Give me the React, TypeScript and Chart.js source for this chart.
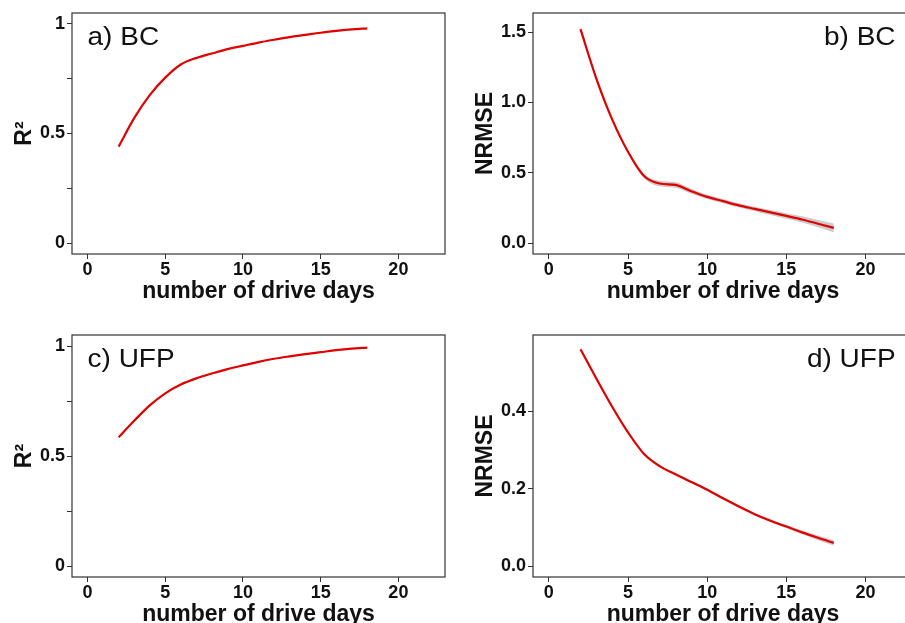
import React, { useEffect, useRef } from 'react';
import { Chart, registerables } from 'chart.js';
Chart.register(...registerables);

const days = [2, 3, 4, 5, 6, 7, 8, 9, 10, 11, 12, 13, 14, 15, 16, 17, 18];
const r2BC = [0.44, 0.57, 0.675, 0.755, 0.815, 0.845, 0.865, 0.885, 0.9, 0.915, 0.928, 0.94, 0.95, 0.96, 0.968, 0.975, 0.98];
const nrmseBC = [1.52, 1.17, 0.88, 0.65, 0.48, 0.425, 0.415, 0.37, 0.33, 0.3, 0.27, 0.245, 0.22, 0.195, 0.17, 0.14, 0.11];
const nrmseBCSpread = [0.02, 0.015, 0.012, 0.012, 0.015, 0.02, 0.02, 0.018, 0.015, 0.015, 0.015, 0.016, 0.018, 0.02, 0.022, 0.026, 0.032];
const r2UFP = [0.585, 0.66, 0.73, 0.785, 0.825, 0.853, 0.875, 0.895, 0.912, 0.928, 0.942, 0.953, 0.963, 0.972, 0.981, 0.988, 0.993];
const nrmseUFP = [0.559, 0.484, 0.411, 0.345, 0.29, 0.258, 0.237, 0.217, 0.197, 0.175, 0.154, 0.134, 0.117, 0.102, 0.087, 0.073, 0.06];
const nrmseUFPSpread = [0.004, 0.003, 0.003, 0.003, 0.003, 0.003, 0.003, 0.003, 0.003, 0.003, 0.003, 0.003, 0.004, 0.004, 0.005, 0.006, 0.007];

const xTicks = [0, 5, 10, 15, 20];
const r2Ticks = [0, 0.25, 0.5, 0.75, 1];
const r2TickLabels = ['0', '', '0.5', '', '1'];
const nrmseBCTicks = [0, 0.5, 1, 1.5];
const nrmseBCTickLabels = ['0.0', '0.5', '1.0', '1.5'];
const nrmseUFPTicks = [0, 0.2, 0.4];
const nrmseUFPTickLabels = ['0.0', '0.2', '0.4'];

const xTitle = 'number of drive days';
const FONT = '"Liberation Sans", Arial, sans-serif';

type PanelProps = {
  left: number; top: number; width: number; height: number;
  padTop: number; yAxisW: number;
  values: number[]; spread?: number[];
  yMin: number; yMax: number; yTicks: number[]; yTickLabels: string[];
  yTitle: string; yTitlePad: number;
  label: string; labelX: number; labelAlign: 'left' | 'right';
};

function Panel(p: PanelProps) {
  const ref = useRef<HTMLCanvasElement>(null);
  useEffect(() => {
    const canvas = ref.current!;
    const datasets: any[] = [];
    datasets.push({
      data: days.map((d, i) => ({ x: d, y: p.values[i] })),
      borderColor: '#e00000', borderWidth: 2.2, pointRadius: 0, fill: false,
      cubicInterpolationMode: 'monotone',
    });
    if (p.spread) {
      datasets.push({
        data: days.map((d, i) => ({ x: d, y: p.values[i] - p.spread![i] })),
        borderWidth: 0, pointRadius: 0, fill: false, cubicInterpolationMode: 'monotone',
      });
      datasets.push({
        data: days.map((d, i) => ({ x: d, y: p.values[i] + p.spread![i] })),
        borderWidth: 0, pointRadius: 0, fill: '-1', backgroundColor: 'rgba(160,160,160,0.55)',
        cubicInterpolationMode: 'monotone',
      });
    }

    const panelDeco = {
      id: 'panelDeco',
      afterDraw(chart: any) {
        const { ctx, chartArea } = chart;
        ctx.save();
        ctx.strokeStyle = '#333';
        ctx.lineWidth = 1.2;
        ctx.strokeRect(chartArea.left, chartArea.top, chartArea.right - chartArea.left, chartArea.bottom - chartArea.top);
        ctx.fillStyle = '#111';
        ctx.font = `25px ${FONT}`;
        ctx.textAlign = p.labelAlign;
        ctx.textBaseline = 'alphabetic';
        const lx = chart.scales.x.getPixelForValue(p.labelX);
        ctx.translate(lx, chartArea.top + 32);
        ctx.scale(1.12, 1);
        ctx.fillText(p.label, 0, 0);
        ctx.restore();
      },
    };

    const chart = new Chart(canvas, {
      type: 'line',
      data: { datasets },
      plugins: [panelDeco],
      options: {
        animation: false,
        responsive: false,
        layout: { padding: { top: p.padTop, right: 7, left: 0, bottom: 0 } },
        plugins: { legend: { display: false }, tooltip: { enabled: false } },
        scales: {
          x: {
            type: 'linear', min: -1, max: 23,
            afterBuildTicks: (s: any) => { s.ticks = xTicks.map((v) => ({ value: v })); },
            afterFit: (s: any) => { s.height = 56; },
            ticks: { color: '#111', font: { family: FONT, size: 18, weight: 'bold' }, padding: 0, maxRotation: 0, autoSkip: false },
            grid: { drawOnChartArea: false, drawTicks: true, tickLength: 5, color: '#333' },
            border: { display: false },
            title: { display: true, text: xTitle, color: '#111', font: { family: FONT, size: 23, weight: 'bold', lineHeight: 1.2 }, padding: { top: 0, bottom: 5 } },
          },
          y: {
            type: 'linear', min: p.yMin, max: p.yMax,
            afterBuildTicks: (s: any) => { s.ticks = p.yTicks.map((v) => ({ value: v })); },
            afterFit: (s: any) => { s.width = p.yAxisW; },
            ticks: {
              color: '#111', font: { family: FONT, size: 18, weight: 'bold' }, padding: 2, autoSkip: false,
              callback: (v: any) => { const i = p.yTicks.indexOf(Number(v)); return i >= 0 ? p.yTickLabels[i] : ''; },
            },
            grid: { drawOnChartArea: false, drawTicks: true, tickLength: 5, color: '#333' },
            border: { display: false },
            title: { display: true, text: p.yTitle, color: '#111', font: { family: FONT, size: 23, weight: 'bold', lineHeight: 1.2 }, padding: { top: p.yTitlePad, bottom: 0 } },
          },
        },
      } as any,
    });
    return () => chart.destroy();
  }, []);
  return (
    <canvas ref={ref} width={p.width} height={p.height}
      style={{ position: 'absolute', left: p.left, top: p.top, width: p.width, height: p.height }} />
  );
}

export default function App() {
  return (
    <div style={{ position: 'fixed', left: 0, top: 0, width: 905, height: 623, overflow: 'hidden', background: '#fff' }}>
      <Panel left={0} top={0} width={452} height={310} padTop={13} yAxisW={72}
        values={r2BC} yMin={-0.05} yMax={1.05} yTicks={r2Ticks} yTickLabels={r2TickLabels}
        yTitle="R²" yTitlePad={11} label="a) BC" labelX={0} labelAlign="left" />
      <Panel left={452} top={0} width={468} height={310} padTop={13} yAxisW={81}
        values={nrmseBC} spread={nrmseBCSpread} yMin={-0.075} yMax={1.635} yTicks={nrmseBCTicks} yTickLabels={nrmseBCTickLabels}
        yTitle="NRMSE" yTitlePad={20} label="b) BC" labelX={21.9} labelAlign="right" />
      <Panel left={0} top={310} width={452} height={323} padTop={25} yAxisW={72}
        values={r2UFP} yMin={-0.05} yMax={1.05} yTicks={r2Ticks} yTickLabels={r2TickLabels}
        yTitle="R²" yTitlePad={11} label="c) UFP" labelX={0} labelAlign="left" />
      <Panel left={452} top={310} width={468} height={323} padTop={25} yAxisW={81}
        values={nrmseUFP} spread={nrmseUFPSpread} yMin={-0.028} yMax={0.596} yTicks={nrmseUFPTicks} yTickLabels={nrmseUFPTickLabels}
        yTitle="NRMSE" yTitlePad={20} label="d) UFP" labelX={21.9} labelAlign="right" />
    </div>
  );
}
